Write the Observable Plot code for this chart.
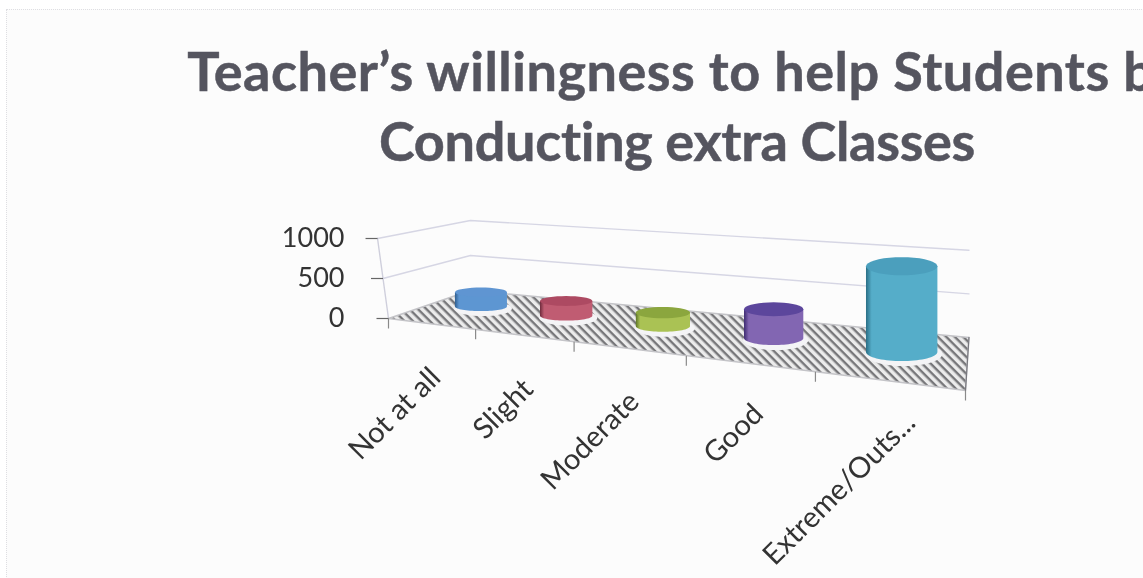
<!DOCTYPE html>
<html><head><meta charset="utf-8">
<script src="https://cdn.jsdelivr.net/npm/d3@7"></script>
<script src="https://cdn.jsdelivr.net/npm/@observablehq/plot@0.6"></script>
<style>
html,body{margin:0;padding:0;width:1143px;height:578px;overflow:hidden;background:#fff;}
#page{position:relative;width:1143px;height:578px;overflow:hidden;}
#frame{position:absolute;left:6px;top:9px;right:-5px;bottom:-5px;border:1px dotted #dedee2;background:#fcfcfc;}
#title{position:absolute;left:176px;top:0;width:1000px;height:178px;text-align:center;font-family:Lato,sans-serif;font-weight:700;font-size:54px;line-height:70px;color:#55555f;white-space:nowrap;padding-top:36px;box-sizing:border-box;filter:blur(.5px);font-variant-ligatures:none;-webkit-text-stroke:.5px #55555f;}
#title span{position:relative;display:inline-block;}
#l1{letter-spacing:.5px;left:9px;}
#l2{letter-spacing:-.3px;left:1px;}
#chart{position:absolute;left:0;top:178px;}
#chart svg{filter:blur(.6px);background:transparent;overflow:visible;}
</style></head><body>
<div id="page"><div id="frame"></div>
<div id="title"><span id="l1">Teacher’s willingness to help Students by</span><br><span id="l2">Conducting extra Classes</span></div>
<div id="chart"></div></div>
<script>
const categories = ["Not at all","Slight","Moderate","Good","Extreme/Outs..."];
const values = [190,190,170,350,1000];
const yTicks = [0,500,1000];
const topColors = ["#5f95d2","#ad4a62","#8ba63e","#5c469c","#4b9fbd"];
const sideColors = ["#5d96d2","#c05c72","#aac254","#8266b2","#55adc9"];
const darkColors = ["#2f5f90","#6e2b3c","#5d7526","#3d2a70","#2a6e85"];

// camera of the 3-D view, in units of the x scale (categories) and y scale (value)
const K = 1.406, D = 0.58, N = 5;
const pers = u => u / (u + K * (1 - u));
const lerp = (t,a,b) => a + (b - a) * t;
function P(u, v, w = 0) {
  const s = pers(u);
  const X = lerp(v, 5 * s, lerp(s, 0.71, 5.03));
  const Y = lerp(v, lerp(s, 0, -900), lerp(s, 350, -237));
  const h = lerp(v, lerp(s, 1, 1.1), lerp(s, 0.875, 1.09));
  return {x: X - (1 - s) * (1 - v) * w * 0.000095, y: Y + w * h};
}
const XU = 577 / 5, YU = 0.08;           // pixels per scale unit
const radii = s => [(26 + 15 * s * s * s) / XU, (4.6 + 6 * s * s) / YU];

const rows = categories.map((c,i) => ({c, i, value: values[i], u: (i + .5) / N}));
const arc = (c, rx, ry, a0, a1, n = 36) => d3.range(n + 1).map(k => {
  const a = lerp(k / n, a0, a1);
  return {x: c.x + rx * Math.cos(a), y: c.y + ry * Math.sin(a)};
});
const bodies = [], tops = [], halos = [];
for (const r of rows) {
  const [rx, ry] = radii(pers(r.u));
  const b = P(r.u, D, 0), t = P(r.u, D, r.value);
  b.x += 6 / XU;
  t.x = b.x;
  bodies.push(...[{x:t.x - rx, y:t.y},{x:t.x + rx, y:t.y},...arc(b, rx, ry, 2*Math.PI, Math.PI)].map(p => ({...p, i:r.i})));
  tops.push(...arc(t, rx, ry, 0, 2*Math.PI).map(p => ({...p, i:r.i})));
  halos.push(...arc({x:b.x + 2/XU, y:b.y - 2/YU}, rx + 3/XU, ry + 3/YU, 0, 2*Math.PI).map(p => ({...p, i:r.i})));
}
const floor = [P(0,0),P(1,0),P(1,1),P(0,1)];
const grid = [500,1000].flatMap(w => [P(0,0,w),P(0,1,w),P(1,1,w)].map(p => ({...p, w})));
const leftWall = [P(0,0,0),P(0,0,1000)];
const tickRows = d3.range(N + 1).map(i => P(i / N, 0));
const yTickRows = yTicks.map(w => ({...P(0,0,w), w}));
const labelRows = rows.map(r => {
  const p = P(r.u,0), s4 = pers(r.u) ** 4;
  return {x: p.x + 0.28 * s4, y: p.y + 268 * s4, c: r.c};
});

const defs = () => {
  const d = d3.create("svg:defs");
  const pat = d.append("pattern").attr("id","hatch").attr("patternUnits","userSpaceOnUse")
    .attr("width",6).attr("height",6).attr("patternTransform","rotate(45)");
  pat.append("rect").attr("width",6).attr("height",6).attr("fill","#ececec");
  pat.append("rect").attr("width",6).attr("height",2.4).attr("fill","#77777a");
  categories.forEach((_,i) => {
    const g = d.append("linearGradient").attr("id","cyl"+i);
    g.append("stop").attr("offset","0").attr("stop-color",darkColors[i]);
    g.append("stop").attr("offset",".08").attr("stop-color",sideColors[i]);
    g.append("stop").attr("offset","1").attr("stop-color",sideColors[i]);
  });
  return d.node();
};
const byI = (arr,i) => arr.filter(p => p.i === i);

const plot = Plot.plot({
  width: 1143, height: 400, margin: 0, marginLeft: 377,
  style: {background:"transparent"},
  x: {domain:[0,5], range:[388,965], axis:null},
  y: {domain:[0,1000], range:[140,60], axis:null},
  marks: [
    defs,
    Plot.line(grid, {x:"x", y:"y", z:"w", stroke:"#d6d6e4", strokeWidth:1.4}),
    Plot.line(leftWall, {x:"x", y:"y", stroke:"#cfcfdc", strokeWidth:1.4}),
    Plot.line(floor, {x:"x", y:"y", curve:"linear-closed", fill:"url(#hatch)", stroke:"#c4c4c8", strokeWidth:1.5}),
    Plot.line(floor.slice(1,3), {x:"x", y:"y", stroke:"#77777d", strokeWidth:1.2}),
    Plot.link(tickRows, {x1:"x", y1:"y", x2:"x", y2:d => d.y - 125, stroke:"#8a8a8a", strokeWidth:1.2}),
    Plot.link(yTickRows, {x1:d => d.x - 12 / XU, y1:"y", x2:"x", y2:"y", stroke:"#666", strokeWidth:1.2}),
    Plot.axisY({ticks:yTicks, tickFormat:"d", anchor:"left", tickSize:0, tickPadding:33, fontSize:27, fontFamily:"Lato,sans-serif", fill:"#333", label:null}),
    ...rows.flatMap(r => [
      Plot.line(byI(halos,r.i), {x:"x", y:"y", curve:"linear-closed", fill:"#f4f4f6", stroke:"none"}),
      Plot.line(byI(bodies,r.i), {x:"x", y:"y", curve:"linear-closed", fill:`url(#cyl${r.i})`, stroke:"none"}),
      Plot.line(byI(tops,r.i), {x:"x", y:"y", curve:"linear-closed", fill:topColors[r.i], stroke:"none"})
    ]),
    Plot.text(labelRows, {x:"x", y:"y", text:"c", rotate:-45, textAnchor:"end", dx:5, dy:49, fontSize:29, fontFamily:"Lato,sans-serif", fill:"#333"})
  ]
});
document.getElementById("chart").appendChild(plot);
</script></body></html>
